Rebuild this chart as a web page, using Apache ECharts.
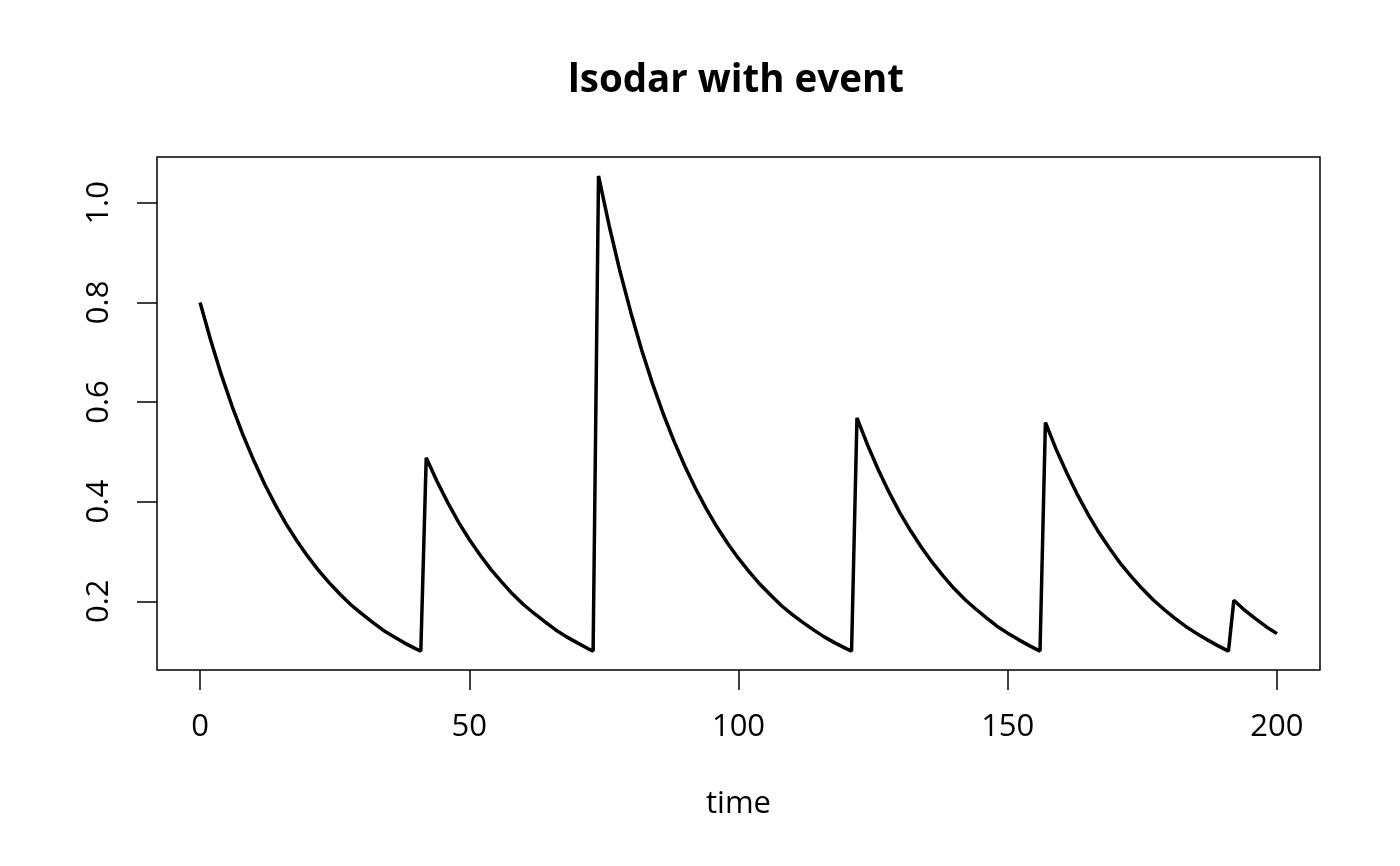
<!DOCTYPE html>
<html>
<head>
<meta charset="utf-8">
<script src="https://cdn.jsdelivr.net/npm/echarts@6/dist/echarts.min.js"></script>
<style>
  html, body { margin: 0; padding: 0; background: #fff; }
  #chart { width: 1400px; height: 866px; }
</style>
</head>
<body>
<div id="chart"></div>
<script>
// values: decay with root events at y = 0.1
var time = [
  0, 2, 4, 6, 8, 10, 12, 14, 16, 18, 20, 22, 24, 26, 28, 30, 32, 34, 36, 38, 40, 41,
  42, 44, 46, 48, 50, 52, 54, 56, 58, 60, 62, 64, 66, 68, 70, 72, 73,
  74, 76, 78, 80, 82, 84, 86, 88, 90, 92, 94, 96, 98, 100, 102, 104, 106, 108, 110, 112, 114, 116, 118, 120, 121,
  122, 124, 126, 128, 130, 132, 134, 136, 138, 140, 142, 144, 146, 148, 150, 152, 154, 156,
  157, 159, 161, 163, 165, 167, 169, 171, 173, 175, 177, 179, 181, 183, 185, 187, 189, 191,
  192, 194, 196, 198, 200
];
var conc = [
  0.800, 0.723, 0.653, 0.590, 0.533, 0.482, 0.435, 0.393, 0.355, 0.321, 0.290, 0.262, 0.237, 0.214, 0.193, 0.175, 0.158, 0.142, 0.129, 0.116, 0.105, 0.100,
  0.488, 0.441, 0.398, 0.359, 0.324, 0.293, 0.264, 0.239, 0.215, 0.194, 0.176, 0.159, 0.143, 0.129, 0.117, 0.105, 0.100,
  1.054, 0.953, 0.862, 0.780, 0.705, 0.638, 0.577, 0.522, 0.472, 0.427, 0.386, 0.349, 0.316, 0.286, 0.259, 0.234, 0.212, 0.191, 0.173, 0.157, 0.142, 0.128, 0.116, 0.105, 0.100,
  0.568, 0.513, 0.463, 0.418, 0.377, 0.341, 0.308, 0.278, 0.251, 0.226, 0.204, 0.185, 0.167, 0.150, 0.136, 0.123, 0.111, 0.100,
  0.559, 0.505, 0.457, 0.413, 0.373, 0.337, 0.305, 0.275, 0.249, 0.225, 0.203, 0.184, 0.166, 0.150, 0.136, 0.123, 0.111, 0.100,
  0.202, 0.182, 0.165, 0.149, 0.135
];
var xTicks = [0, 50, 100, 150, 200];
var yTicks = [0.2, 0.4, 0.6, 0.8, 1.0];

var points = [];
for (var i = 0; i < time.length; i++) {
    points.push([time[i], conc[i]]);
}

var font = "'Open Sans', 'Noto Sans', sans-serif";
var chart = echarts.init(document.getElementById('chart'));
chart.setOption({
    animation: false,
    backgroundColor: '#fff',
    graphic: [{
        type: 'text',
        left: 738 - 170,
        top: 62,
        style: {
            text: 'lsodar with event',
            width: 340,
            align: 'center',
            font: 'bold 38.5px ' + font,
            fill: '#000'
        }
    }],
    grid: {
        left: 157, right: 80, top: 157, bottom: 196,
        show: true,
        borderColor: '#000',
        borderWidth: 1.5,
        backgroundColor: 'transparent'
    },
    xAxis: {
        type: 'value',
        min: -8, max: 208,
        name: 'time',
        nameLocation: 'middle',
        nameGap: 119,
        nameTextStyle: {color: '#000', fontSize: 31, fontFamily: font},
        axisLine: {show: false, onZero: false},
        splitLine: {show: false},
        axisTick: {show: true, length: 20, lineStyle: {color: '#000', width: 1.5}, customValues: xTicks},
        axisLabel: {color: '#000', fontSize: 31, fontFamily: font, margin: 42, customValues: xTicks}
    },
    yAxis: {
        type: 'value',
        min: 0.062, max: 1.092,
        axisLine: {show: false, onZero: false},
        splitLine: {show: false},
        axisTick: {show: true, length: 20, lineStyle: {color: '#000', width: 1.5}, customValues: yTicks},
        axisLabel: {
            color: '#000', fontSize: 31, fontFamily: font, margin: 42, rotate: 90,
            customValues: yTicks,
            formatter: function (v) { return v.toFixed(1); }
        }
    },
    series: [{
        type: 'line',
        data: points,
        showSymbol: false,
        symbol: 'none',
        lineStyle: {color: '#000', width: 3.5},
        itemStyle: {color: '#000'}
    }]
});
</script>
</body>
</html>
